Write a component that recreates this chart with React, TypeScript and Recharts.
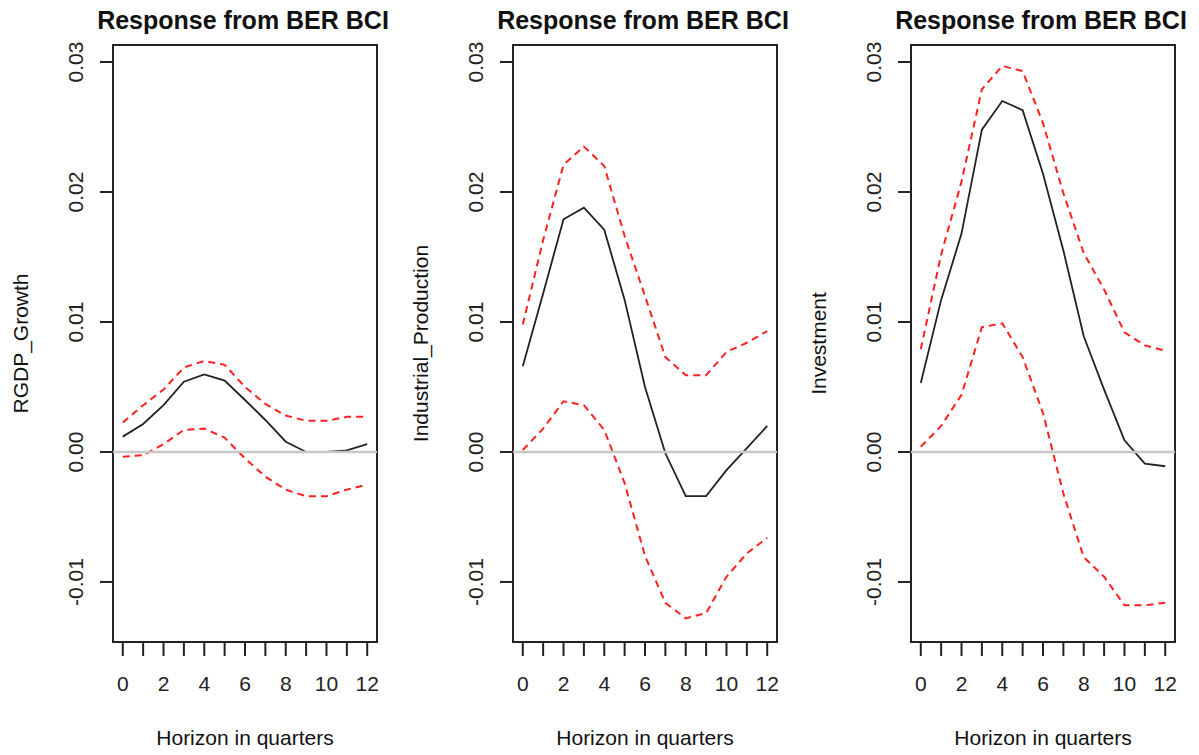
import React from "react";
import {
  LineChart,
  Line,
  XAxis,
  YAxis,
  ReferenceLine,
  ReferenceArea,
} from "recharts";

// impulse responses to a BER BCI shock, with bootstrap bands
const HORIZON = [0, 1, 2, 3, 4, 5, 6, 7, 8, 9, 10, 11, 12];

const RGDP_IRF = [0.00118, 0.00215, 0.0036, 0.0054, 0.00597, 0.00549, 0.004, 0.00246, 0.00079, 0.0, 0.0, 0.00012, 0.0006];
const RGDP_UPPER = [0.00226, 0.0036, 0.0048, 0.0065, 0.007, 0.0067, 0.005, 0.0037, 0.0028, 0.0024, 0.0024, 0.0027, 0.0027];
const RGDP_LOWER = [-0.00036, -0.00025, 0.0006, 0.0017, 0.0018, 0.0011, -0.0005, -0.0019, -0.0029, -0.0034, -0.0034, -0.0029, -0.0025];

const IP_IRF = [0.0066, 0.0122, 0.0179, 0.0188, 0.0171, 0.0117, 0.005, -0.0001, -0.0034, -0.0034, -0.0014, 0.0003, 0.002];
const IP_UPPER = [0.0098, 0.0163, 0.0221, 0.0235, 0.022, 0.0166, 0.012, 0.0073, 0.0059, 0.0059, 0.0077, 0.0084, 0.0093];
const IP_LOWER = [0.00015, 0.0018, 0.0039, 0.0036, 0.0017, -0.0024, -0.008, -0.0116, -0.0128, -0.0124, -0.0096, -0.0078, -0.0066];

const INV_IRF = [0.0053, 0.0117, 0.0168, 0.0248, 0.027, 0.0263, 0.0214, 0.0155, 0.0089, 0.0048, 0.0009, -0.0009, -0.0011];
const INV_UPPER = [0.0079, 0.0152, 0.0208, 0.0279, 0.0297, 0.0293, 0.0253, 0.0199, 0.0153, 0.0125, 0.0092, 0.0082, 0.0078];
const INV_LOWER = [0.0004, 0.002, 0.0044, 0.0096, 0.0099, 0.0073, 0.003, -0.0032, -0.0081, -0.0096, -0.0118, -0.0118, -0.0116];

const Y_TICKS = [-0.01, 0, 0.01, 0.02, 0.03];
const TITLE = "Response from BER BCI";
const X_LABEL = "Horizon in quarters";

const X_DOMAIN: [number, number] = [-0.48, 12.48];
const Y_DOMAIN: [number, number] = [-0.01462, 0.03131];

const FONT = "'Liberation Sans', Arial, sans-serif";

const panels = [
  { name: "RGDP_Growth", left: 0, irf: RGDP_IRF, upper: RGDP_UPPER, lower: RGDP_LOWER },
  { name: "Industrial_Production", left: 400, irf: IP_IRF, upper: IP_UPPER, lower: IP_LOWER },
  { name: "Investment", left: 798, irf: INV_IRF, upper: INV_UPPER, lower: INV_LOWER },
];

function YTick({ x, y, payload }: any) {
  return (
    <text
      x={x}
      y={y}
      transform={`rotate(-90 ${x} ${y})`}
      textAnchor="middle"
      fontSize={21}
      fontFamily={FONT}
      fill="#222"
    >
      {Number(payload.value).toFixed(2)}
    </text>
  );
}

function Panel({ p }: { p: (typeof panels)[number] }) {
  const rows = HORIZON.map((h, i) => ({
    h,
    irf: p.irf[i],
    upper: p.upper[i],
    lower: p.lower[i],
  }));
  return (
    <div style={{ position: "absolute", left: p.left, top: 0 }}>
      <LineChart
        width={400}
        height={755}
        data={rows}
        margin={{ top: 45, right: 23, left: 53, bottom: 33 }}
      >
        <XAxis
          dataKey="h"
          type="number"
          domain={X_DOMAIN}
          allowDataOverflow
          ticks={HORIZON}
          interval={0}
          tickFormatter={(v: number) => (v % 2 === 0 ? String(v) : "")}
          axisLine={false}
          tickSize={14}
          tickMargin={20}
          height={80}
          tickLine={{ stroke: "#222", strokeWidth: 2 }}
          tick={{ fontSize: 21, fontFamily: FONT, fill: "#222" }}
        />
        <YAxis
          type="number"
          domain={Y_DOMAIN}
          allowDataOverflow
          ticks={Y_TICKS}
          interval={0}
          width={60}
          axisLine={false}
          tickSize={13}
          tickMargin={17}
          tickLine={{ stroke: "#222", strokeWidth: 2 }}
          tick={<YTick />}
        />
        <ReferenceArea
          x1={X_DOMAIN[0]}
          x2={X_DOMAIN[1]}
          y1={Y_DOMAIN[0]}
          y2={Y_DOMAIN[1]}
          fill="none"
          stroke="#222"
          strokeWidth={2}
        />
        <Line dataKey="irf" stroke="#222" strokeWidth={1.8} dot={false} isAnimationActive={false} />
        <Line dataKey="upper" stroke="#ff2020" strokeWidth={2} strokeDasharray="7 5" dot={false} isAnimationActive={false} />
        <Line dataKey="lower" stroke="#ff2020" strokeWidth={2} strokeDasharray="7 5" dot={false} isAnimationActive={false} />
        <ReferenceLine y={0} stroke="#c8c8c8" strokeWidth={2.5} />
      </LineChart>
    </div>
  );
}

export default function App() {
  return (
    <div
      style={{
        position: "absolute",
        left: 0,
        top: 0,
        width: 1199,
        height: 755,
        background: "#fff",
        overflow: "hidden",
      }}
    >
      {panels.map((p) => (
        <Panel key={p.name} p={p} />
      ))}
      <svg
        width={1199}
        height={755}
        style={{ position: "absolute", left: 0, top: 0, pointerEvents: "none" }}
      >
        {panels.map((p) => (
          <g key={p.name} fontFamily={FONT} fill="#111">
            <text x={p.left + 243} y={29} textAnchor="middle" fontSize={25} fontWeight="bold">
              {TITLE}
            </text>
            <text x={p.left + 245} y={745} textAnchor="middle" fontSize={21}>
              {X_LABEL}
            </text>
            <text
              x={p.left + 28}
              y={343.5}
              textAnchor="middle"
              fontSize={21}
              transform={`rotate(-90 ${p.left + 28} 343.5)`}
            >
              {p.name}
            </text>
          </g>
        ))}
      </svg>
    </div>
  );
}
